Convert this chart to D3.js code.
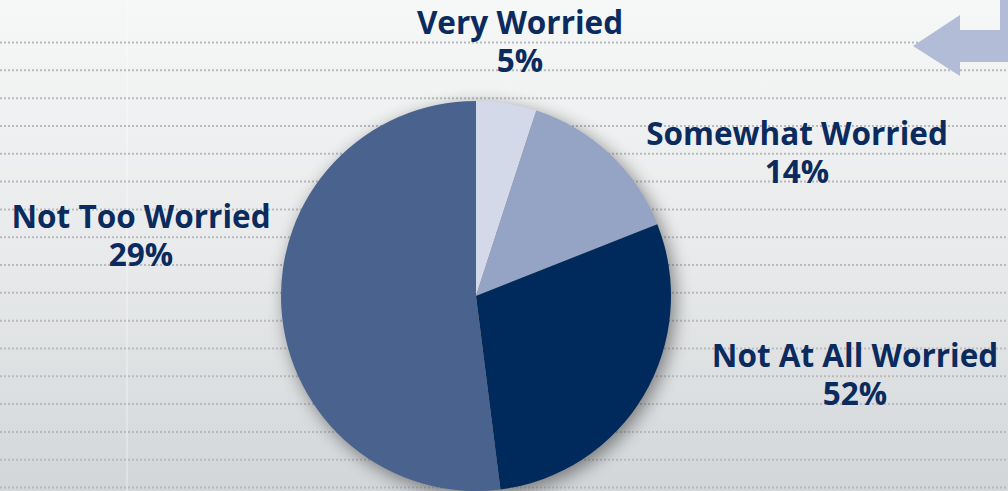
<!DOCTYPE html>
<html>
<head>
<meta charset="utf-8">
<script src="https://cdn.jsdelivr.net/npm/d3@7"></script>
<style>
  html, body { margin: 0; padding: 0; overflow: hidden; }
  svg { display: block; }
</style>
</head>
<body>
<svg id="chart" width="1008" height="491"></svg>
<script>
// slice values in drawing order (clockwise from 12 o'clock)
const categories = ["Very Worried", "Somewhat Worried", "Not Too Worried", "Not At All Worried"];
const values = [5, 14, 29, 52];
const sliceColors = ["#d3d9e8", "#95a3c4", "#002a5c", "#4a628e"];

// labels as they stand on the slide
const labelNames = ["Very Worried", "Somewhat Worried", "Not Too Worried", "Not At All Worried"];
const labelValues = ["5%", "14%", "29%", "52%"];
const labelPos = [[520, 34], [797, 145], [141, 228], [855, 367]];

const width = 1008, height = 491;
const svg = d3.select("#chart");
const defs = svg.append("defs");

// background gradient
const bg = defs.append("linearGradient").attr("id", "bg")
    .attr("x1", 0).attr("y1", 0).attr("x2", 0).attr("y2", 1);
bg.append("stop").attr("offset", "0%").attr("stop-color", "#f6f7f7");
bg.append("stop").attr("offset", "55%").attr("stop-color", "#e7e9ea");
bg.append("stop").attr("offset", "100%").attr("stop-color", "#d3d6d9");

const shadow = defs.append("filter").attr("id", "shadow")
    .attr("x", "-20%").attr("y", "-20%").attr("width", "140%").attr("height", "140%");
shadow.append("feGaussianBlur").attr("in", "SourceAlpha").attr("stdDeviation", 9);
shadow.append("feOffset").attr("dx", 4).attr("dy", 5).attr("result", "b");
shadow.append("feComponentTransfer").append("feFuncA").attr("type", "linear").attr("slope", 0.45);

svg.append("rect").attr("width", width).attr("height", height).attr("fill", "url(#bg)");
// faint slide seam
svg.append("line").attr("x1", 127).attr("x2", 127).attr("y1", 0).attr("y2", height)
    .attr("stroke", "#ffffff").attr("stroke-opacity", 0.5).attr("stroke-width", 1);

// dotted rules
const ruleY = d3.scaleLinear().domain([0, 16]).range([42.5, 487.5]);
svg.append("g").selectAll("line")
    .data(d3.range(17))
    .join("line")
    .attr("x1", 0).attr("x2", width)
    .attr("y1", d => ruleY(d)).attr("y2", d => ruleY(d))
    .attr("stroke", "#b8babc")
    .attr("stroke-width", 2)
    .attr("stroke-dasharray", "2,2");

// return arrow icon, top right
svg.append("path")
    .attr("d", "M913,46 L960,15 L960,30 L1000,30 L1000,0 L1008,0 L1008,62 L960,62 L960,76 Z")
    .attr("fill", "#b3bcd6");

// pie
const cx = 476, cy = 296, r = 195;
const pie = d3.pie().sort(null).value(d => d);
const arc = d3.arc().innerRadius(0).outerRadius(r);
const arcs = pie(values);

const g = svg.append("g").attr("transform", `translate(${cx},${cy})`);
g.append("circle").attr("r", r).attr("fill", "#000").attr("filter", "url(#shadow)");
g.selectAll("path.slice")
    .data(arcs)
    .join("path")
    .attr("class", "slice")
    .attr("d", arc)
    .attr("fill", (d, i) => sliceColors[i]);

// labels
const lab = svg.append("g")
    .attr("font-family", "'Open Sans', sans-serif")
    .attr("font-weight", 700)
    .attr("font-size", 31.5)
    .attr("fill", "#0b2b5e")
    .attr("text-anchor", "middle");
labelNames.forEach((name, i) => {
    const t = lab.append("text").attr("x", labelPos[i][0]).attr("y", labelPos[i][1]);
    t.append("tspan").attr("x", labelPos[i][0]).text(name);
    t.append("tspan").attr("x", labelPos[i][0]).attr("dy", 37.5).text(labelValues[i]);
});
</script>
</body>
</html>
